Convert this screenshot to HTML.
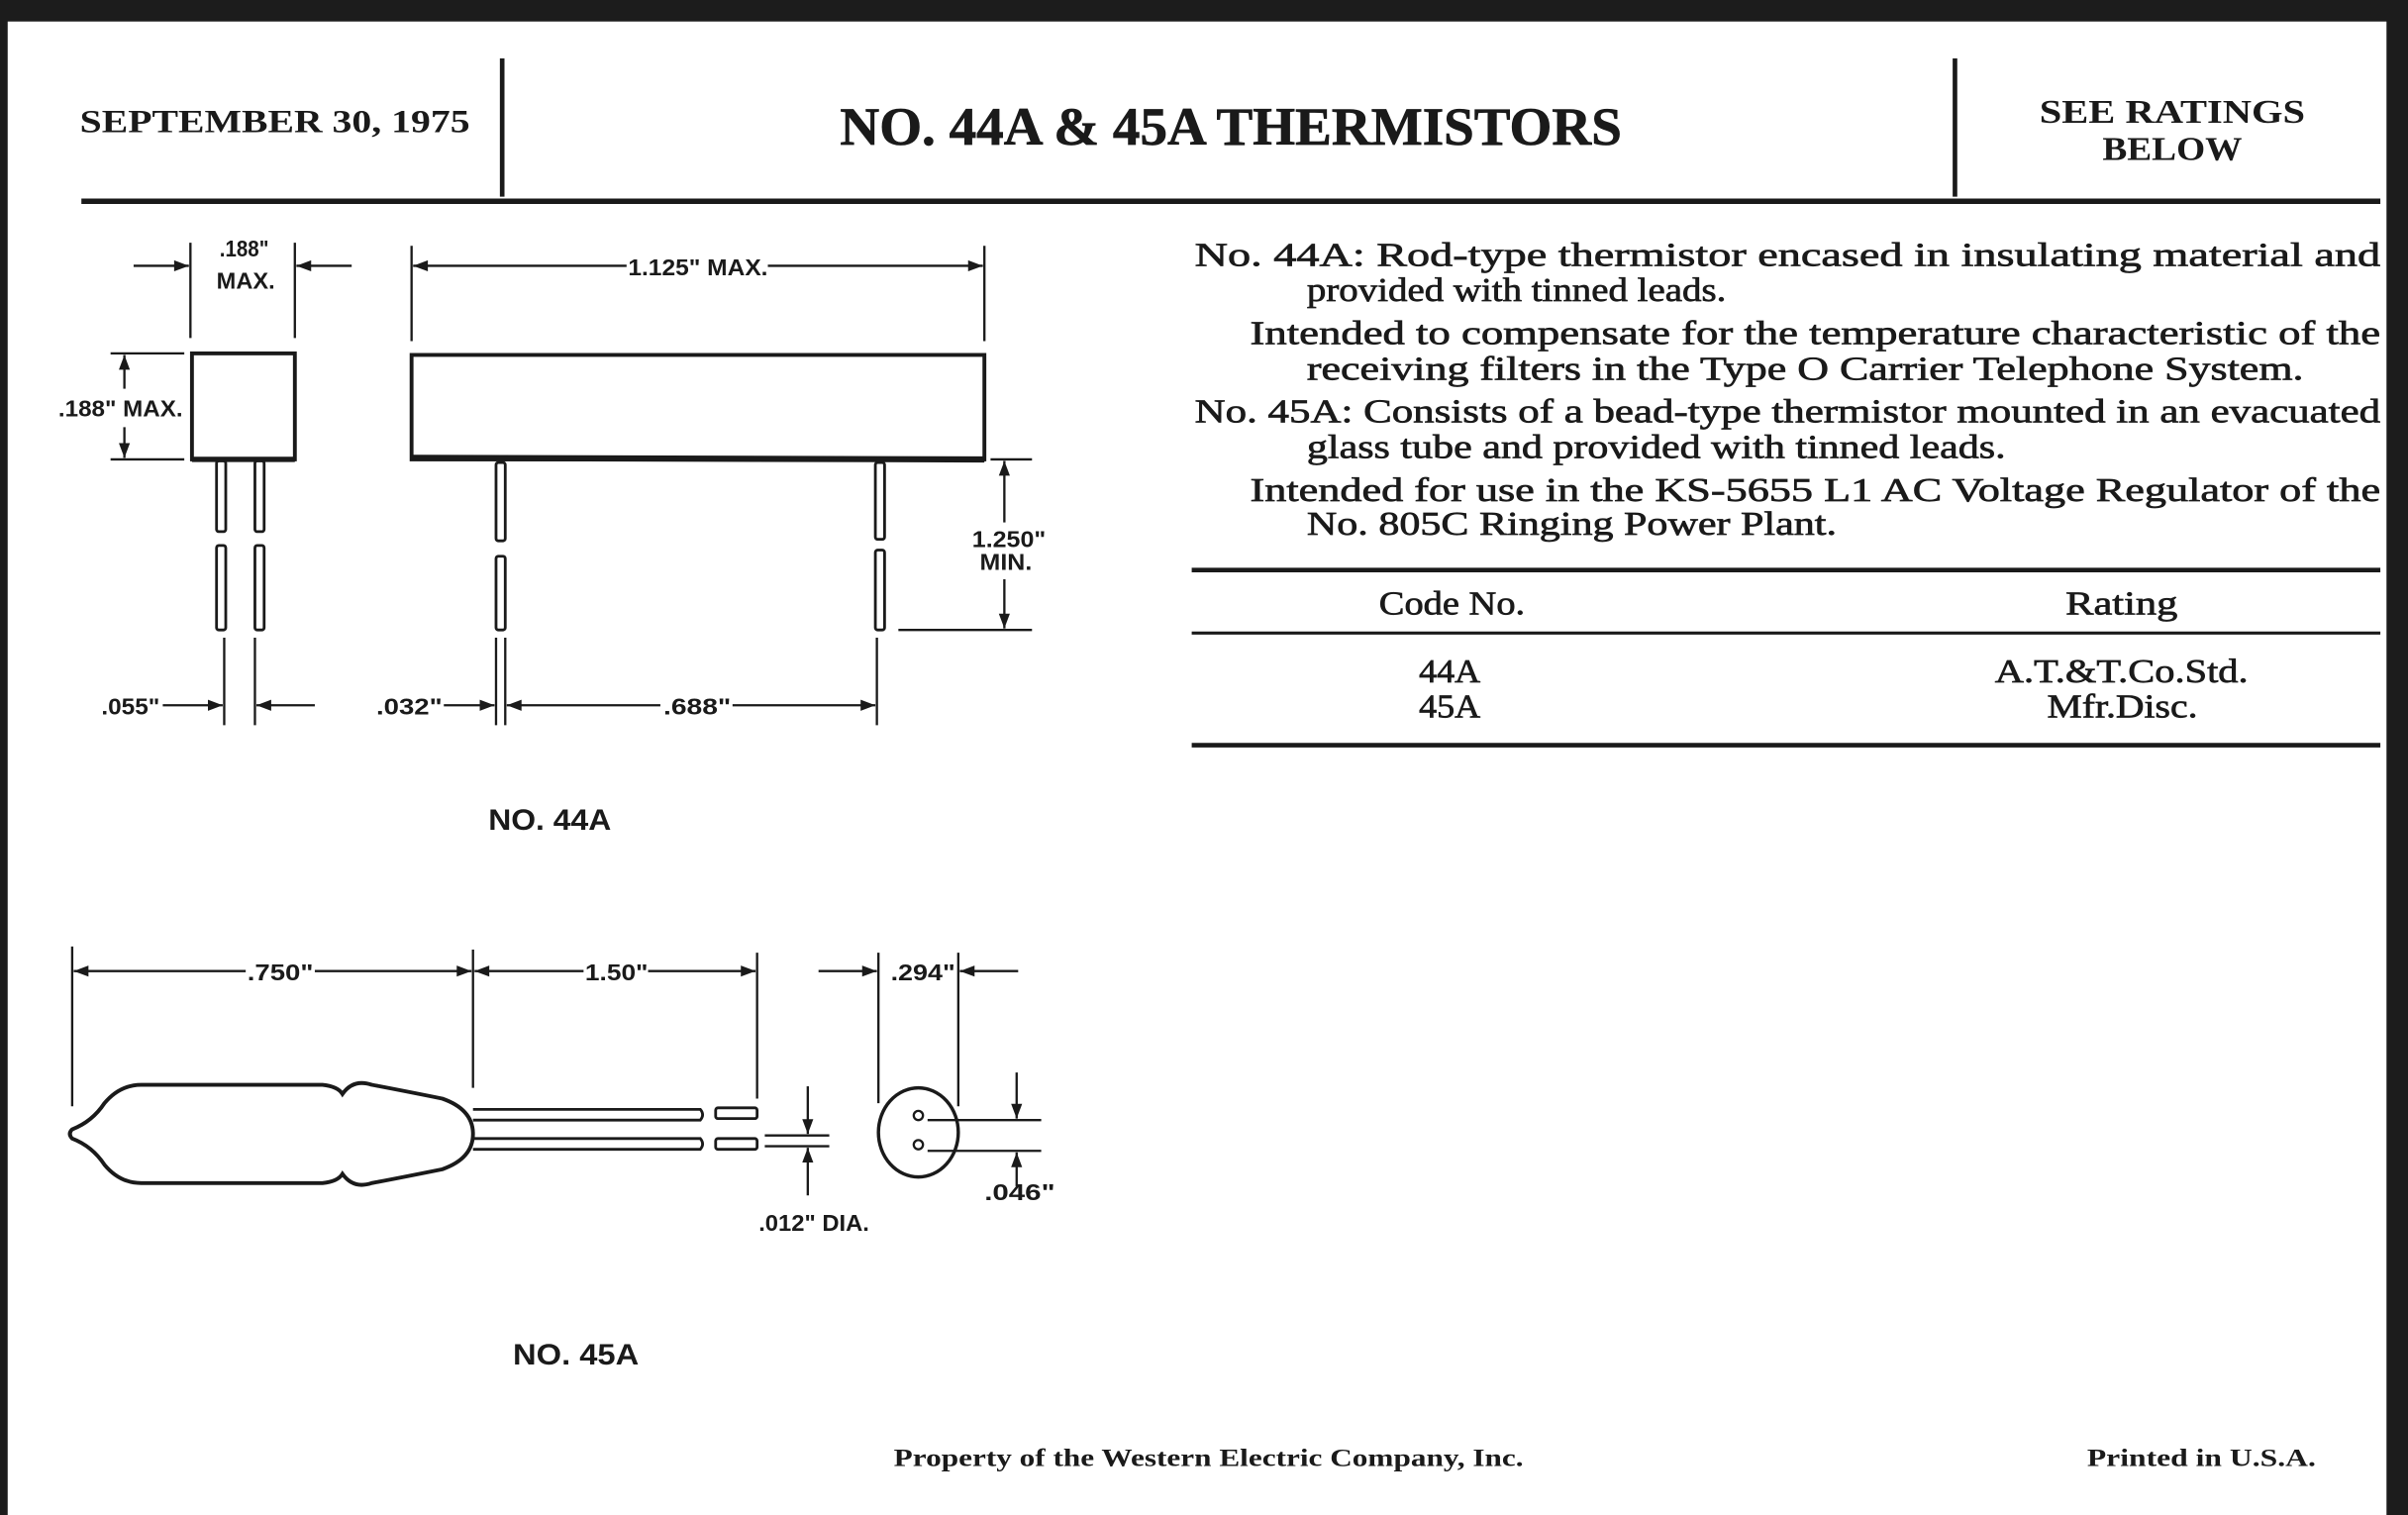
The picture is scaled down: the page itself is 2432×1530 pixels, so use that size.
<!DOCTYPE html>
<html><head><meta charset="utf-8"><style>
html,body{margin:0;padding:0;background:#fff;}
svg{display:block;}
.s{font-family:"Liberation Serif",serif;fill:#1a1a1a;}
.b{stroke:#1a1a1a;stroke-width:0.45;}
.d{font-family:"Liberation Sans",sans-serif;fill:#1a1a1a;font-weight:bold;}
</style></head><body>
<svg width="2432" height="1530" viewBox="0 0 1568 986" preserveAspectRatio="none" xmlns="http://www.w3.org/2000/svg">
<defs>
<marker id="a" viewBox="0 0 12 10" refX="12" refY="5" markerWidth="12" markerHeight="8" orient="auto-start-reverse" markerUnits="userSpaceOnUse"><path d="M0,0.5 L12,5 L0,9.5 Z" fill="#1a1a1a"/></marker>
</defs>
<rect width="1568" height="986" fill="#fff"/>
<rect x="0" y="0" width="1568" height="14" fill="#1c1c1c"/>
<rect x="0" y="0" width="5" height="986" fill="#1c1c1c"/>
<rect x="1554" y="0" width="14" height="986" fill="#1c1c1c"/>

<!-- header -->
<line x1="327" y1="38" x2="327" y2="128" stroke="#1a1a1a" stroke-width="3"/>
<line x1="1273" y1="38" x2="1273" y2="128" stroke="#1a1a1a" stroke-width="3"/>
<line x1="53" y1="131" x2="1550" y2="131" stroke="#1a1a1a" stroke-width="3.5"/>
<text class="s" x="52" y="86" font-size="21" font-weight="bold" textLength="254" lengthAdjust="spacingAndGlyphs">SEPTEMBER 30, 1975</text>
<text class="s b" x="547" y="94" font-size="35" font-weight="bold" textLength="509" lengthAdjust="spacingAndGlyphs">NO. 44A &amp; 45A THERMISTORS</text>
<text class="s" x="1328" y="80" font-size="22" font-weight="bold" textLength="173" lengthAdjust="spacingAndGlyphs">SEE RATINGS</text>
<text class="s" x="1369" y="104" font-size="22" font-weight="bold" textLength="91" lengthAdjust="spacingAndGlyphs">BELOW</text>

<!-- description -->
<g class="s b" font-size="22">
<text x="778" y="173" textLength="772" lengthAdjust="spacingAndGlyphs">No. 44A:  Rod-type thermistor encased in insulating material and</text>
<text x="851" y="196" textLength="273" lengthAdjust="spacingAndGlyphs">provided with tinned leads.</text>
<text x="814" y="224" textLength="736" lengthAdjust="spacingAndGlyphs">Intended to compensate for the temperature characteristic of the</text>
<text x="851" y="247" textLength="649" lengthAdjust="spacingAndGlyphs">receiving filters in the Type O Carrier Telephone System.</text>
<text x="778" y="275" textLength="772" lengthAdjust="spacingAndGlyphs">No. 45A:  Consists of a bead-type thermistor mounted in an evacuated</text>
<text x="851" y="298" textLength="455" lengthAdjust="spacingAndGlyphs">glass tube and provided with tinned leads.</text>
<text x="814" y="326" textLength="736" lengthAdjust="spacingAndGlyphs">Intended for use in the KS-5655 L1 AC Voltage Regulator of the</text>
<text x="851" y="348" textLength="345" lengthAdjust="spacingAndGlyphs">No. 805C Ringing Power Plant.</text>
</g>

<!-- table -->
<line x1="776" y1="371" x2="1550" y2="371" stroke="#1a1a1a" stroke-width="3"/>
<line x1="776" y1="412" x2="1550" y2="412" stroke="#1a1a1a" stroke-width="2"/>
<line x1="776" y1="485" x2="1550" y2="485" stroke="#1a1a1a" stroke-width="3"/>
<g class="s b" font-size="22">
<text x="898" y="400" textLength="95" lengthAdjust="spacingAndGlyphs">Code No.</text>
<text x="1345" y="400" textLength="73" lengthAdjust="spacingAndGlyphs">Rating</text>
<text x="924" y="444" textLength="40" lengthAdjust="spacingAndGlyphs">44A</text>
<text x="924" y="467" textLength="40" lengthAdjust="spacingAndGlyphs">45A</text>
<text x="1299" y="444" textLength="165" lengthAdjust="spacingAndGlyphs">A.T.&amp;T.Co.Std.</text>
<text x="1333" y="467" textLength="98" lengthAdjust="spacingAndGlyphs">Mfr.Disc.</text>
</g>

<!-- footer -->
<text class="s" x="582" y="954" font-size="16" font-weight="bold" textLength="410" lengthAdjust="spacingAndGlyphs">Property of the Western Electric Company, Inc.</text>
<text class="s" x="1359" y="954" font-size="16" font-weight="bold" textLength="149" lengthAdjust="spacingAndGlyphs">Printed in U.S.A.</text>

<g stroke="#1a1a1a" fill="none">
<!-- 44A end view -->
<rect x="125" y="230" width="67" height="69" stroke-width="2.5"/>
<line x1="125" y1="299" x2="192" y2="299" stroke-width="3.5"/>
<rect x="141" y="300" width="6" height="46" rx="1.5" stroke-width="1.8"/>
<rect x="166" y="300" width="6" height="46" rx="1.5" stroke-width="1.8"/>
<rect x="141" y="355" width="6" height="55" rx="1.5" stroke-width="1.8"/>
<rect x="166" y="355" width="6" height="55" rx="1.5" stroke-width="1.8"/>
<g stroke-width="1.5">
<line x1="124" y1="158" x2="124" y2="220"/><line x1="192" y1="158" x2="192" y2="220"/>
<line x1="87" y1="173" x2="123" y2="173" marker-end="url(#a)"/>
<line x1="229" y1="173" x2="193" y2="173" marker-end="url(#a)"/>
<line x1="72" y1="230" x2="120" y2="230"/><line x1="72" y1="299" x2="120" y2="299"/>
<line x1="81" y1="253" x2="81" y2="231" marker-end="url(#a)"/>
<line x1="81" y1="278" x2="81" y2="298" marker-end="url(#a)"/>
<line x1="146" y1="415" x2="146" y2="472"/><line x1="166" y1="415" x2="166" y2="472"/>
<line x1="106" y1="459" x2="145" y2="459" marker-end="url(#a)"/>
<line x1="205" y1="459" x2="167" y2="459" marker-end="url(#a)"/>
</g>
<!-- 44A side view -->
<rect x="268" y="231" width="373" height="68" stroke-width="2.5"/>
<line x1="268" y1="298" x2="641" y2="299" stroke-width="4"/>
<rect x="323" y="301" width="6" height="51" rx="1.5" stroke-width="1.8"/>
<rect x="570" y="301" width="6" height="50" rx="1.5" stroke-width="1.8"/>
<rect x="323" y="362" width="6" height="48" rx="1.5" stroke-width="1.8"/>
<rect x="570" y="358" width="6" height="52" rx="1.5" stroke-width="1.8"/>
<g stroke-width="1.5">
<line x1="268" y1="160" x2="268" y2="222"/><line x1="641" y1="160" x2="641" y2="222"/>
<line x1="408" y1="173" x2="269" y2="173" marker-end="url(#a)"/>
<line x1="500" y1="173" x2="640" y2="173" marker-end="url(#a)"/>
<line x1="645" y1="299" x2="672" y2="299"/><line x1="585" y1="410" x2="672" y2="410"/>
<line x1="654" y1="340" x2="654" y2="300" marker-end="url(#a)"/>
<line x1="654" y1="377" x2="654" y2="409" marker-end="url(#a)"/>
<line x1="323" y1="415" x2="323" y2="472"/><line x1="329" y1="415" x2="329" y2="472"/><line x1="571" y1="415" x2="571" y2="472"/>
<line x1="289" y1="459" x2="322" y2="459" marker-end="url(#a)"/>
<line x1="430" y1="459" x2="330" y2="459" marker-end="url(#a)"/>
<line x1="477" y1="459" x2="570" y2="459" marker-end="url(#a)"/>
</g>

<!-- 45A side -->
<path d="M47,735 Q60,730 68,718 Q78,706 92,706 L210,706 Q220,707 223,712 Q230,702 242,706 Q258,709 288,715 Q308,722 308,738 Q308,754 288,761 Q258,767 242,770 Q230,774 223,764 Q220,769 210,770 L92,770 Q78,770 68,758 Q60,746 47,741 Q44,738 47,735 Z" stroke-width="2.5"/>
<g stroke-width="1.8">
<path d="M308,722 L456,722 Q459,725.5 456,729 L308,729"/>
<path d="M308,741 L456,741 Q459,744.5 456,748 L308,748"/>
<rect x="466" y="721" width="27" height="7" rx="1.5"/>
<rect x="466" y="741" width="27" height="7" rx="1.5"/>
</g>
<g stroke-width="1.5">
<line x1="47" y1="616" x2="47" y2="720"/><line x1="308" y1="618" x2="308" y2="708"/><line x1="493" y1="620" x2="493" y2="715"/>
<line x1="160" y1="632" x2="48" y2="632" marker-end="url(#a)"/>
<line x1="205" y1="632" x2="307" y2="632" marker-end="url(#a)"/>
<line x1="380" y1="632" x2="309" y2="632" marker-end="url(#a)"/>
<line x1="422" y1="632" x2="492" y2="632" marker-end="url(#a)"/>
<line x1="498" y1="739" x2="540" y2="739"/><line x1="498" y1="746" x2="540" y2="746"/>
<line x1="526" y1="707" x2="526" y2="738" marker-end="url(#a)"/>
<line x1="526" y1="778" x2="526" y2="747" marker-end="url(#a)"/>
<!-- end view -->
<line x1="572" y1="620" x2="572" y2="718"/><line x1="624" y1="620" x2="624" y2="720"/>
<line x1="533" y1="632" x2="571" y2="632" marker-end="url(#a)"/>
<line x1="663" y1="632" x2="625" y2="632" marker-end="url(#a)"/>
<line x1="604" y1="729" x2="678" y2="729"/><line x1="604" y1="749" x2="678" y2="749"/>
<line x1="662" y1="698" x2="662" y2="728" marker-end="url(#a)"/>
<line x1="662" y1="772" x2="662" y2="750" marker-end="url(#a)"/>
</g>
<ellipse cx="598" cy="737" rx="26" ry="29" stroke-width="2.2"/>
<circle cx="598" cy="726" r="3" stroke-width="1.5"/>
<circle cx="598" cy="745" r="3" stroke-width="1.5"/>
</g>

<g class="d" font-size="15">
<text x="143" y="167" textLength="32" lengthAdjust="spacingAndGlyphs">.188"</text>
<text x="141" y="188" textLength="38" lengthAdjust="spacingAndGlyphs">MAX.</text>
<text x="38" y="271" textLength="81" lengthAdjust="spacingAndGlyphs">.188" MAX.</text>
<text x="409" y="179" textLength="91" lengthAdjust="spacingAndGlyphs">1.125" MAX.</text>
<text x="633" y="356" textLength="48" lengthAdjust="spacingAndGlyphs">1.250"</text>
<text x="638" y="371" textLength="34" lengthAdjust="spacingAndGlyphs">MIN.</text>
<text x="66" y="465" textLength="38" lengthAdjust="spacingAndGlyphs">.055"</text>
<text x="245" y="465" textLength="43" lengthAdjust="spacingAndGlyphs">.032"</text>
<text x="432" y="465" textLength="44" lengthAdjust="spacingAndGlyphs">.688"</text>
<text x="161" y="638" textLength="43" lengthAdjust="spacingAndGlyphs">.750"</text>
<text x="381" y="638" textLength="41" lengthAdjust="spacingAndGlyphs">1.50"</text>
<text x="580" y="638" textLength="42" lengthAdjust="spacingAndGlyphs">.294"</text>
<text x="494" y="801" textLength="72" lengthAdjust="spacingAndGlyphs">.012" DIA.</text>
<text x="641" y="781" textLength="46" lengthAdjust="spacingAndGlyphs">.046"</text>
<text x="318" y="540" font-size="19" textLength="80" lengthAdjust="spacingAndGlyphs">NO. 44A</text>
<text x="334" y="888" font-size="19" textLength="82" lengthAdjust="spacingAndGlyphs">NO. 45A</text>
</g>
</svg>
</body></html>
